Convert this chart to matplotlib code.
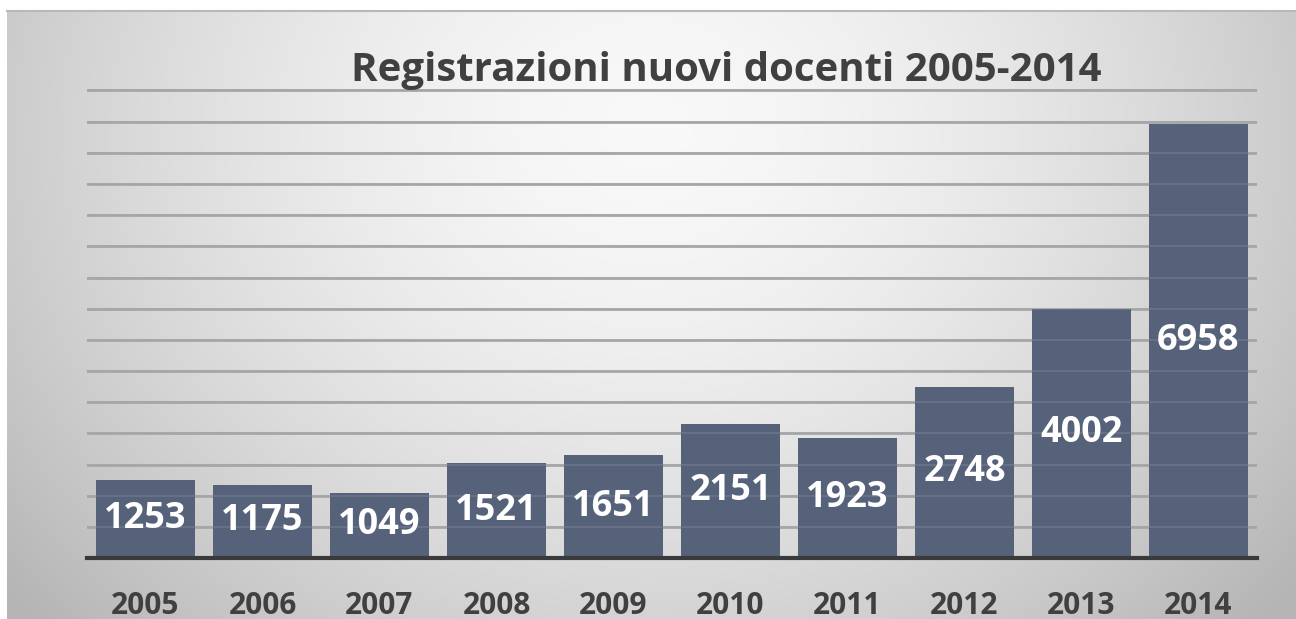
import numpy as np
import matplotlib
matplotlib.use("Agg")
import matplotlib.pyplot as plt

years = ["2005", "2006", "2007", "2008", "2009", "2010", "2011", "2012", "2013", "2014"]
values = [1253, 1175, 1049, 1521, 1651, 2151, 1923, 2748, 4002, 6958]
title = "Registrazioni nuovi docenti 2005-2014"

plt.rcParams['font.family'] = ['Open Sans', 'DejaVu Sans']

W, H = 1296, 619
fig = plt.figure(figsize=(W / 100, H / 100), dpi=100)
fig.patch.set_facecolor("white")

# background slide gradient
bg = fig.add_axes([0, 0, 1, 1], zorder=-10)
bg.set_xlim(0, W)
bg.set_ylim(H, 0)
bg.axis("off")
yy, xx = np.mgrid[0:H - 11, 0:W - 7]
cx, cy = 640, 120
r = np.sqrt(((xx - cx) / 700.0) ** 2 + ((yy - cy) / 600.0) ** 2)
v = 0.975 - 0.20 * np.clip(r, 0, 1.2) ** 1.6
img = np.dstack([v, v, v])
bg.imshow(img, extent=[7, W, H, 11], aspect="auto", interpolation="bilinear")
bg.plot([7, W], [11, 11], color="#b8b8b8", lw=1.5)

ymax = 7560
top_px = 558 - (558 - 90.5) * ymax / 7500
ax = fig.add_axes([87 / W, 1 - 558 / H, (1257 - 87) / W, (558 - top_px) / H])
ax.patch.set_alpha(0)
x = np.arange(len(years))
bar_color = "#56617a"
bars = ax.bar(x, values, width=0.85, color=bar_color, zorder=2)
ax.set_xlim(-0.5, len(years) - 0.5)
ax.set_ylim(0, ymax)
ax.set_yticks(np.arange(0, 7501, 500))
ax.yaxis.grid(True, color="#a8a8a8", lw=2, zorder=0)
ax.set_axisbelow(True)
for t in ax.get_yticks()[1:]:
    ax.axhline(t, color="#9aa0aa", lw=1.5, alpha=0.25, zorder=2.5)
ax.tick_params(axis="y", left=False, labelleft=False)
ax.tick_params(axis="x", bottom=False, pad=20)
ax.set_xticks(x)
ax.set_xticklabels(years, fontsize=21.5, fontweight="bold", color="#404040")
for s in ["top", "right", "left"]:
    ax.spines[s].set_visible(False)
ax.spines["bottom"].set_color("#3a3a3a")
ax.spines["bottom"].set_linewidth(3)
ax.spines["bottom"].set_zorder(4)

for xi, v_ in zip(x, values):
    ax.text(xi, v_ / 2, str(v_), ha="center", va="center", fontsize=26,
            fontweight="bold", color="white", zorder=5)

fig.text(726 / W, 1 - 70 / H, title, ha="center", va="center", fontsize=29,
         fontweight="bold", color="#404040")

fig.savefig("out.png", dpi=100)
